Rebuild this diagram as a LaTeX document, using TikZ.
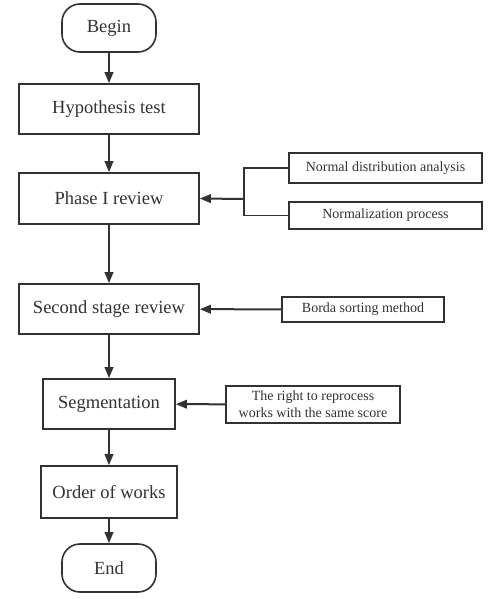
\documentclass[tikz,border=0pt]{standalone}
\usepackage{fontspec}
\setmainfont{Liberation Serif}
\usetikzlibrary{arrows.meta}

\definecolor{linegray}{RGB}{50,50,50}

\begin{document}
\begin{tikzpicture}[>={Triangle[length=11pt,width=8.5pt]}, x=1pt, y=-1pt,
  mainbox/.style={draw=linegray, line width=1.6pt, inner sep=0pt,
    minimum width=180pt, minimum height=50pt, text=linegray,
    font=\fontsize{18.5}{21}\selectfont},
  termbox/.style={mainbox, rounded corners=18pt, minimum width=94pt, minimum height=48pt},
  sidebox/.style={draw=linegray, line width=1.5pt, inner sep=0pt, text=linegray,
    font=\fontsize{14}{17}\selectfont},
  flow/.style={->, draw=linegray, line width=2pt}]
  \useasboundingbox (0,0) rectangle (492,599);
  % main column
  \node[termbox] (begin) at (109,28) {Begin};
  \node[mainbox] (hyp) at (109,109) {Hypothesis test};
  \node[mainbox, minimum height=51pt] (phaseone) at (109,198.5) {Phase I review};
  \node[mainbox] (second) at (109,309) {Second stage review};
  \node[mainbox, minimum width=132pt] (seg) at (109,404) {Segmentation};
  \node[mainbox, minimum width=136pt, minimum height=52pt] (order) at (109,492) {Order of works};
  \node[termbox] (end) at (109,568) {End};
  % side inputs
  \node[sidebox, minimum width=193pt, minimum height=30pt] (normal) at (385.5,168) {Normal distribution analysis};
  \node[sidebox, minimum width=193pt, minimum height=27pt] (normproc) at (385.5,215.5) {Normalization process};
  \node[sidebox, minimum width=162pt, minimum height=25pt] (borda) at (363,309.5) {Borda sorting method};
  \node[sidebox, minimum width=174pt, minimum height=37pt, align=center] (reproc) at (313,404.5)
    {The right to reprocess\\works with the same score};
  % flow
  \draw[flow] (begin) -- (hyp);
  \draw[flow] (hyp) -- (phaseone);
  \draw[flow] (phaseone) -- (second);
  \draw[flow] (second) -- (seg);
  \draw[flow] (seg) -- (order);
  \draw[flow] (order) -- (end);
  % bracket joining the two analyses
  \coordinate (join) at (244,199);
  \draw[draw=linegray, line width=1.4pt] (normal.west) -| (join) |- (normproc.west);
  \draw[flow] (join) -- (phaseone.east);
  \draw[flow] (borda) -- (second);
  \draw[flow] (reproc) -- (seg);
\end{tikzpicture}
\end{document}
